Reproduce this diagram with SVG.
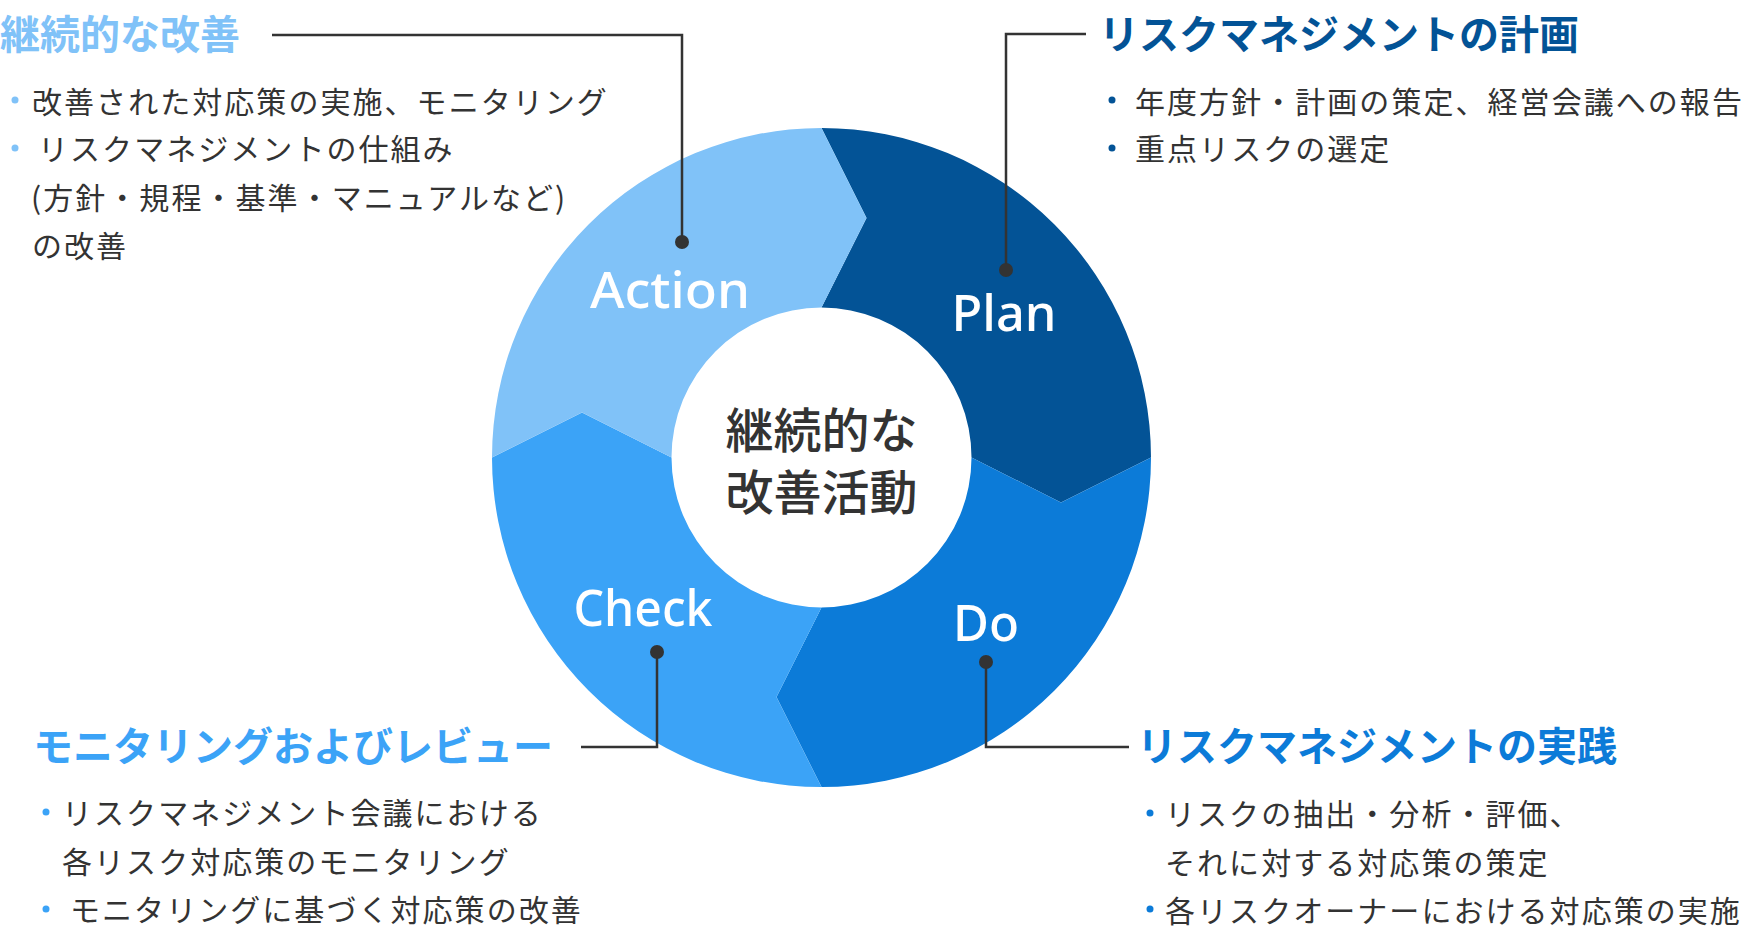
<svg xmlns="http://www.w3.org/2000/svg" width="1752" height="932" viewBox="0 0 1752 932">
<style>
.title{font-family:"Noto Sans CJK JP","Noto Sans",sans-serif;font-weight:700;font-size:40px}
.body{font-family:"Noto Sans CJK JP","Noto Sans",sans-serif;font-size:30px;letter-spacing:2.05px;fill:#333}
.label{font-family:"Noto Sans","Open Sans",sans-serif;font-weight:500;font-size:50px;fill:#fff;text-anchor:middle}
.ctext{font-family:"Noto Sans CJK JP",sans-serif;font-weight:500;font-size:48px;fill:#333;text-anchor:middle}
.conn{stroke:#333;stroke-width:2.5;fill:none}
.dot{fill:#333}
.c-action{fill:#80C2F8}
.c-plan{fill:#035396}
.c-do{fill:#0C7BD8}
.c-check{fill:#3BA3F7}
</style>
<rect width="1752" height="932" fill="#fff"/>

<g id="node-plan">
<path class="c-plan" d="M821.5 128 A329.5 329.5 0 0 1 1151 457.5 L1061 502.5 L971.5 457.5 A150 150 0 0 0 821.5 307.5 L866.5 218 Z"/>
<text class="label" x="1004" y="331" textLength="105" lengthAdjust="spacingAndGlyphs">Plan</text>
</g>
<g id="node-do">
<path class="c-do" d="M1151 457.5 A329.5 329.5 0 0 1 821.5 787 L776.5 697 L821.5 607.5 A150 150 0 0 0 971.5 457.5 L1061 502.5 Z"/>
<text class="label" x="986" y="641" textLength="66" lengthAdjust="spacingAndGlyphs">Do</text>
</g>
<g id="node-check">
<path class="c-check" d="M821.5 787 A329.5 329.5 0 0 1 492 457.5 L582 412.5 L671.5 457.5 A150 150 0 0 0 821.5 607.5 L776.5 697 Z"/>
<text class="label" x="643" y="626" textLength="139" lengthAdjust="spacingAndGlyphs">Check</text>
</g>
<g id="node-action">
<path class="c-action" d="M492 457.5 A329.5 329.5 0 0 1 821.5 128 L866.5 218 L821.5 307.5 A150 150 0 0 0 671.5 457.5 L582 412.5 Z"/>
<text class="label" x="670" y="308" textLength="160" lengthAdjust="spacingAndGlyphs">Action</text>
</g>
<g id="node-center">
<text class="ctext"><tspan x="821.5" y="448">継続的な</tspan><tspan x="821.5" y="510">改善活動</tspan></text>
</g>

<g id="connectors">
<polyline class="conn" points="272,35 682,35 682,242"/>
<circle class="dot" cx="682" cy="242" r="7"/>
<polyline class="conn" points="1086,34 1006,34 1006,270"/>
<circle class="dot" cx="1006" cy="270" r="7"/>
<polyline class="conn" points="581,747 657,747 657,652"/>
<circle class="dot" cx="657" cy="652" r="7"/>
<polyline class="conn" points="1129,747 986,747 986,662"/>
<circle class="dot" cx="986" cy="662" r="7"/>
</g>

<g id="note-action">
<text class="title" x="0" y="49" fill="#80C2F8">継続的な改善</text>
<circle cx="15" cy="100" r="3.5" fill="#80C2F8"/>
<circle cx="15" cy="148" r="3.5" fill="#80C2F8"/>
<text class="body" x="32" y="112.5">改善された対応策の実施、モニタリング</text>
<text class="body" x="38" y="160">リスクマネジメントの仕組み</text>
<text class="body" x="31" y="209">(方針・規程・基準・マニュアルなど)</text>
<text class="body" x="32" y="257">の改善</text>
</g>

<g id="note-plan">
<text class="title" x="1099" y="49" fill="#035396">リスクマネジメントの計画</text>
<circle cx="1112" cy="100" r="3.5" fill="#035396"/>
<circle cx="1112" cy="148" r="3.5" fill="#035396"/>
<text class="body" x="1135" y="112.5">年度方針・計画の策定、経営会議への報告</text>
<text class="body" x="1135" y="160">重点リスクの選定</text>
</g>

<g id="note-check">
<text class="title" x="33" y="761" fill="#3BA3F7">モニタリングおよびレビュー</text>
<circle cx="46" cy="812" r="3.5" fill="#3BA3F7"/>
<circle cx="46" cy="909" r="3.5" fill="#3BA3F7"/>
<text class="body" x="62" y="824">リスクマネジメント会議における</text>
<text class="body" x="62" y="872.5">各リスク対応策のモニタリング</text>
<text class="body" x="70" y="921">モニタリングに基づく対応策の改善</text>
</g>

<g id="note-do">
<text class="title" x="1137" y="761" fill="#0C7BD8">リスクマネジメントの実践</text>
<circle cx="1150" cy="813" r="3.5" fill="#0C7BD8"/>
<circle cx="1150" cy="909" r="3.5" fill="#0C7BD8"/>
<text class="body" x="1165" y="825">リスクの抽出・分析・評価、</text>
<text class="body" x="1165" y="873.5">それに対する対応策の策定</text>
<text class="body" x="1165" y="921.5">各リスクオーナーにおける対応策の実施</text>
</g>
</svg>
